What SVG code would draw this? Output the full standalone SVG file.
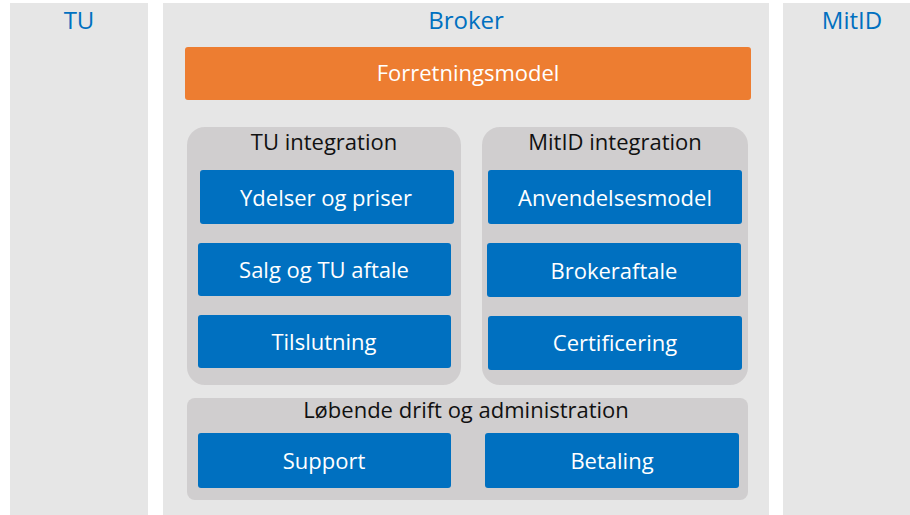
<svg xmlns="http://www.w3.org/2000/svg" width="910" height="515" viewBox="0 0 910 515">
<style>
.col{fill:#e6e6e6}
.ttl{font-family:"Open Sans","Liberation Sans",sans-serif;font-size:24px;fill:#0070c0;text-anchor:middle}
.grp{fill:#d0cecf}
.gt{font-family:"Open Sans","Liberation Sans",sans-serif;font-size:22px;fill:#111;text-anchor:middle}
.box{fill:#0070c0}
.bt{font-family:"Open Sans","Liberation Sans",sans-serif;font-size:22px;fill:#fff;text-anchor:middle}
</style>
<rect width="910" height="515" fill="#fff"/>
<g id="tu"><rect class="col" x="10" y="3" width="138" height="512"/><text class="ttl" x="79" y="29">TU</text></g>
<g id="broker"><rect class="col" x="163" y="3" width="606" height="512"/><text class="ttl" x="466" y="29">Broker</text></g>
<g id="mitid"><rect class="col" x="783" y="3" width="127" height="512"/><text class="ttl" x="852" y="29">MitID</text></g>
<g id="forretningsmodel"><rect x="185" y="47" width="566" height="53" rx="3" fill="#ed7d31"/><text class="bt" x="468" y="81">Forretningsmodel</text></g>
<g id="tu-integration"><rect class="grp" x="187" y="127" width="274" height="258" rx="18"/><text class="gt" x="324" y="150">TU integration</text></g>
<g id="mitid-integration"><rect class="grp" x="482" y="127" width="266" height="258" rx="18"/><text class="gt" x="615" y="150">MitID integration</text></g>
<g id="lobende"><rect class="grp" x="187" y="398" width="561" height="102" rx="8"/><text class="gt" x="466" y="418">Løbende drift og administration</text></g>
<g id="ydelser"><rect class="box" x="200" y="170" width="254" height="54" rx="3"/><text class="bt" x="326" y="206">Ydelser og priser</text></g>
<g id="salg"><rect class="box" x="198" y="243" width="253" height="53" rx="3"/><text class="bt" x="324" y="278">Salg og TU aftale</text></g>
<g id="tilslutning"><rect class="box" x="198" y="315" width="253" height="53" rx="3"/><text class="bt" x="324" y="350">Tilslutning</text></g>
<g id="anvendelsesmodel"><rect class="box" x="488" y="170" width="254" height="54" rx="3"/><text class="bt" x="615" y="206">Anvendelsesmodel</text></g>
<g id="brokeraftale"><rect class="box" x="487" y="243" width="254" height="54" rx="3"/><text class="bt" x="614" y="279">Brokeraftale</text></g>
<g id="certificering"><rect class="box" x="488" y="316" width="254" height="54" rx="3"/><text class="bt" x="615" y="351">Certificering</text></g>
<g id="support"><rect class="box" x="198" y="433" width="253" height="55" rx="3"/><text class="bt" x="324" y="469">Support</text></g>
<g id="betaling"><rect class="box" x="485" y="433" width="254" height="55" rx="3"/><text class="bt" x="612" y="469">Betaling</text></g>
<g id="connectors"/>
</svg>
